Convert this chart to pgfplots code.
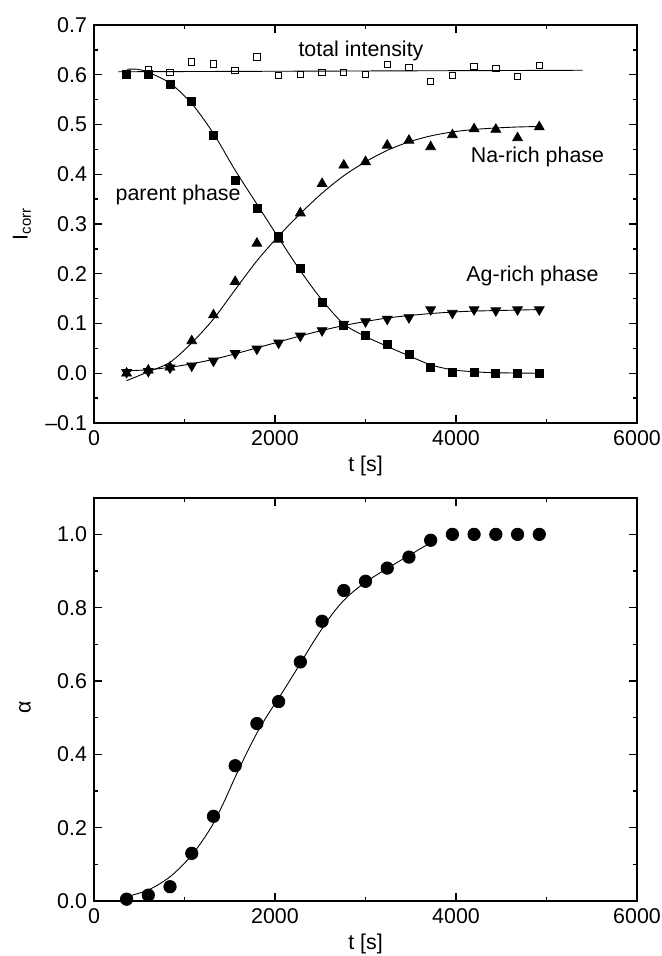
\documentclass[border=0pt]{standalone}
\usepackage{pgfplots}
\pgfplotsset{compat=1.18}
\usepackage{fontspec}
\setmainfont{Liberation Sans}

\newcommand\ff{\fontsize{10.7}{12.8}\selectfont}

\pgfplotsset{
  kin/.style={
    scale only axis,
    width=271.5pt,
    xmin=0, xmax=6000,
    xtick={0,2000,4000,6000},
    minor x tick num=1,
    /pgf/number format/assume math mode=true,
    /pgf/number format/set thousands separator={},
    tick align=inside,
    major tick length=4pt,
    minor tick length=2pt,
    every tick/.style={black, line width=0.7pt},
    axis line style={line width=0.9pt},
    tick label style={font=\ff},
    label style={font=\ff},
    xlabel={t [s]},
    clip=false,
  },
  fit/.style={black, line width=0.45pt, smooth, no markers},
}

\begin{document}
\begin{tikzpicture}
\path[use as bounding box] (0,0) rectangle (331pt,-478pt);

% top panel: corrected intensities
\begin{axis}[kin,
  at={(47pt,-211.5pt)}, anchor=south west,
  height=199pt,
  ymin=-0.1, ymax=0.7,
  ytick={-0.1,0,0.1,0.2,0.3,0.4,0.5,0.6,0.7},
  yticklabels={–0.1,0.0,0.1,0.2,0.3,0.4,0.5,0.6,0.7},
  minor y tick num=1,
  ylabel={I\textsubscript{corr}},
  xlabel style={at={(axis description cs:0.5,-0.108)}, anchor=center},
  ylabel style={at={(axis description cs:-0.1326,0.5)}, anchor=center},
]
% fitted curves
\addplot[fit, smooth=false] coordinates {(270,0.606) (5400,0.609)};
\addplot[fit] coordinates {
 (360,0.611) (480,0.611) (600,0.605) (840,0.583) (1080,0.542) (1320,0.482)
 (1560,0.408) (1800,0.340) (2040,0.272) (2280,0.206) (2520,0.147) (2760,0.099)
 (3000,0.074) (3240,0.054) (3480,0.035) (3720,0.017) (3960,0.007) (4200,0.003)
 (4440,0.001) (4920,0.000)};
\addplot[fit] coordinates {
 (360,-0.015) (600,0.003) (840,0.022) (1080,0.061) (1320,0.109) (1560,0.168)
 (1800,0.226) (2040,0.276) (2280,0.321) (2520,0.362) (2760,0.397) (3000,0.425)
 (3240,0.448) (3480,0.465) (3720,0.477) (3960,0.485) (4200,0.490) (4440,0.493)
 (4680,0.495) (4920,0.496)};
\addplot[fit] coordinates {
 (360,0.005) (600,0.007) (840,0.012) (1080,0.019) (1320,0.028) (1560,0.039)
 (1800,0.051) (2040,0.063) (2280,0.075) (2520,0.086) (2760,0.096) (3000,0.104)
 (3240,0.111) (3480,0.116) (3720,0.120) (3960,0.123) (4200,0.125) (4440,0.126)
 (4920,0.128)};
% total intensity
\addplot[only marks, mark=square, mark size=1.6pt, mark options={line width=0.5pt}] coordinates {
 (360,0.600) (600,0.611) (840,0.605) (1080,0.626) (1320,0.622) (1560,0.609)
 (1800,0.636) (2040,0.599) (2280,0.601) (2520,0.605) (2760,0.605) (3000,0.600)
 (3240,0.620) (3480,0.615) (3720,0.586) (3960,0.598) (4200,0.616) (4440,0.612)
 (4680,0.597) (4920,0.619)};
% parent phase
\addplot[only marks, mark=square*, mark size=2pt] coordinates {
 (360,0.600) (600,0.600) (840,0.581) (1080,0.546) (1320,0.479) (1560,0.387)
 (1800,0.331) (2040,0.276) (2280,0.210) (2520,0.143) (2760,0.096) (3000,0.077)
 (3240,0.057) (3480,0.037) (3720,0.011) (3960,0.001) (4200,0.001) (4440,0.000)
 (4680,0.000) (4920,0.000)};
% Na-rich phase
\addplot[only marks, mark=triangle*, mark size=2.8pt] coordinates {
 (360,0.000) (600,0.006) (840,0.012) (1080,0.065) (1320,0.117) (1560,0.184)
 (1800,0.261) (2040,0.269) (2280,0.322) (2520,0.381) (2760,0.418) (3000,0.425)
 (3240,0.458) (3480,0.468) (3720,0.455) (3960,0.479) (4200,0.491) (4440,0.490)
 (4680,0.473) (4920,0.495)};
% Ag-rich phase
\addplot[only marks, mark=triangle*, mark size=2.8pt, mark options={rotate=180}] coordinates {
 (360,0.002) (600,0.004) (840,0.011) (1080,0.015) (1320,0.025) (1560,0.040)
 (1800,0.049) (2040,0.061) (2280,0.075) (2520,0.086) (2760,0.099) (3000,0.104)
 (3240,0.109) (3480,0.112) (3720,0.128) (3960,0.121) (4200,0.128) (4440,0.126)
 (4680,0.128) (4920,0.128)};
\node[font=\ff] at (axis cs:2950,0.647) {total intensity};
\node[font=\ff] at (axis cs:930,0.358) {parent phase};
\node[font=\ff] at (axis cs:4900,0.434) {Na-rich phase};
\node[font=\ff] at (axis cs:4845,0.195) {Ag-rich phase};
\end{axis}

% bottom panel: transformed fraction
\begin{axis}[kin,
  at={(47pt,-450.5pt)}, anchor=south west,
  height=201.65pt,
  ymin=0, ymax=1.1,
  ytick={0,0.2,0.4,0.6,0.8,1.0},
  yticklabels={0.0,0.2,0.4,0.6,0.8,1.0},
  minor y tick num=1,
  ylabel={α},
  xlabel style={at={(axis description cs:0.5,-0.107)}, anchor=center},
  ylabel style={at={(axis description cs:-0.127,0.48)}, anchor=center},
]
\addplot[fit] coordinates {
 (360,0.012) (480,0.020) (600,0.030) (720,0.046) (840,0.066) (960,0.093)
 (1080,0.125) (1200,0.165) (1320,0.212) (1440,0.272) (1560,0.338) (1680,0.400)
 (1800,0.458) (1920,0.508) (2040,0.553) (2160,0.600) (2280,0.648) (2400,0.697)
 (2520,0.743) (2640,0.785) (2760,0.820) (2880,0.847) (3000,0.869) (3120,0.889)
 (3240,0.907) (3360,0.925) (3480,0.942) (3600,0.960) (3720,0.977)};
\addplot[only marks, mark=*, mark size=3.1pt] coordinates {
 (360,0.005) (600,0.016) (840,0.039) (1080,0.130) (1320,0.231) (1560,0.369)
 (1800,0.484) (2040,0.544) (2280,0.652) (2520,0.763) (2760,0.847) (3000,0.872)
 (3240,0.908) (3480,0.938) (3720,0.984) (3960,1.000) (4200,1.000) (4440,1.000)
 (4680,1.000) (4920,1.000)};
\end{axis}
\end{tikzpicture}
\end{document}
